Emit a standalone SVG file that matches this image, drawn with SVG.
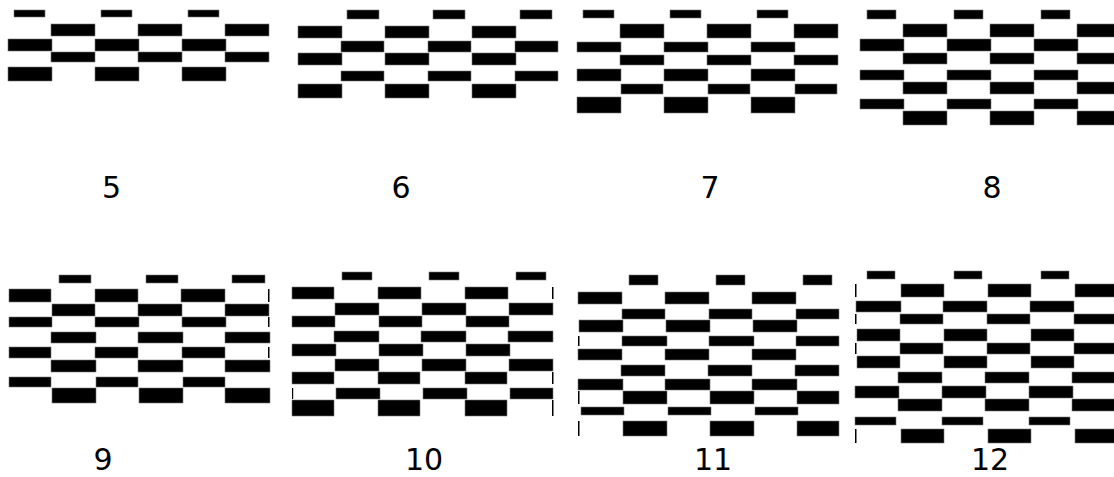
<svg xmlns="http://www.w3.org/2000/svg" width="1114" height="477" viewBox="0 0 1114 477">
<style>
.b{fill:#000;stroke:#777;stroke-width:0.6}
.s{fill:#000}
.l{font-family:"DejaVu Sans",sans-serif;font-size:30px;fill:#000;text-anchor:middle}
</style>
<rect width="1114" height="477" fill="#fff"/>
<g id="p5">
<rect class="b" x="14" y="10" width="31" height="7"/><rect class="b" x="101" y="10" width="31" height="7"/><rect class="b" x="188" y="10" width="31" height="7"/>
<rect class="b" x="51" y="24" width="44" height="12"/><rect class="b" x="138" y="24" width="44" height="12"/><rect class="b" x="225" y="24" width="44" height="12"/>
<rect class="b" x="8" y="39" width="44" height="12"/><rect class="b" x="95" y="39" width="44" height="12"/><rect class="b" x="182" y="39" width="44" height="12"/>
<rect class="b" x="51" y="52" width="44" height="10"/><rect class="b" x="138" y="52" width="44" height="10"/><rect class="b" x="225" y="52" width="44" height="10"/>
<rect class="b" x="8" y="67" width="44" height="14"/><rect class="b" x="95" y="67" width="44" height="14"/><rect class="b" x="182" y="67" width="44" height="14"/>
<text class="l" x="111.5" y="198">5</text>
</g>
<g id="p6">
<rect class="b" x="347" y="10" width="32" height="9"/><rect class="b" x="433" y="10" width="32" height="9"/><rect class="b" x="520" y="10" width="32" height="9"/>
<rect class="b" x="298" y="26" width="44" height="12"/><rect class="b" x="385" y="26" width="44" height="12"/><rect class="b" x="472" y="26" width="44" height="12"/>
<rect class="b" x="341" y="41" width="43" height="11"/><rect class="b" x="428" y="41" width="43" height="11"/><rect class="b" x="515" y="41" width="43" height="11"/>
<rect class="b" x="298" y="53" width="44" height="12"/><rect class="b" x="385" y="53" width="44" height="12"/><rect class="b" x="472" y="53" width="44" height="12"/>
<rect class="b" x="341" y="71" width="43" height="10"/><rect class="b" x="428" y="71" width="43" height="10"/><rect class="b" x="515" y="71" width="43" height="10"/>
<rect class="b" x="298" y="84" width="44" height="14"/><rect class="b" x="385" y="84" width="44" height="14"/><rect class="b" x="472" y="84" width="44" height="14"/>
<text class="l" x="401" y="198">6</text>
</g>
<g id="p7">
<rect class="b" x="583" y="10" width="31" height="8"/><rect class="b" x="670" y="10" width="31" height="8"/><rect class="b" x="757" y="10" width="31" height="8"/>
<rect class="b" x="620" y="24" width="44" height="14"/><rect class="b" x="707" y="24" width="44" height="14"/><rect class="b" x="794" y="24" width="44" height="14"/>
<rect class="b" x="577" y="42" width="44" height="10"/><rect class="b" x="664" y="42" width="44" height="10"/><rect class="b" x="751" y="42" width="44" height="10"/>
<rect class="b" x="620" y="55" width="44" height="10"/><rect class="b" x="707" y="55" width="44" height="10"/><rect class="b" x="794" y="55" width="44" height="10"/>
<rect class="b" x="577" y="69" width="44" height="12"/><rect class="b" x="664" y="69" width="44" height="12"/><rect class="b" x="751" y="69" width="44" height="12"/>
<rect class="b" x="621" y="84" width="42" height="10"/><rect class="b" x="708" y="84" width="42" height="10"/><rect class="b" x="795" y="84" width="42" height="10"/>
<rect class="b" x="577" y="97" width="44" height="16"/><rect class="b" x="664" y="97" width="44" height="16"/><rect class="b" x="751" y="97" width="44" height="16"/>
<text class="l" x="710" y="198">7</text>
</g>
<g id="p8">
<rect class="b" x="867" y="10" width="29" height="9"/><rect class="b" x="954" y="10" width="29" height="9"/><rect class="b" x="1041" y="10" width="29" height="9"/>
<rect class="b" x="903" y="24" width="44" height="13"/><rect class="b" x="990" y="24" width="44" height="13"/><rect class="b" x="1077" y="24" width="44" height="13"/>
<rect class="b" x="860" y="39" width="44" height="12"/><rect class="b" x="947" y="39" width="44" height="12"/><rect class="b" x="1034" y="39" width="44" height="12"/>
<rect class="b" x="903" y="53" width="44" height="11"/><rect class="b" x="990" y="53" width="44" height="11"/><rect class="b" x="1077" y="53" width="44" height="11"/>
<rect class="b" x="860" y="70" width="44" height="10"/><rect class="b" x="947" y="70" width="44" height="10"/><rect class="b" x="1034" y="70" width="44" height="10"/>
<rect class="b" x="903" y="82" width="44" height="12"/><rect class="b" x="990" y="82" width="44" height="12"/><rect class="b" x="1077" y="82" width="44" height="12"/>
<rect class="b" x="860" y="99" width="44" height="10"/><rect class="b" x="947" y="99" width="44" height="10"/><rect class="b" x="1034" y="99" width="44" height="10"/>
<rect class="b" x="903" y="111" width="44" height="14"/><rect class="b" x="990" y="111" width="44" height="14"/><rect class="b" x="1077" y="111" width="44" height="14"/>
<text class="l" x="992" y="198">8</text>
</g>
<g id="p9">
<rect class="b" x="59" y="275" width="32" height="8"/><rect class="b" x="146" y="275" width="32" height="8"/><rect class="b" x="232" y="275" width="33" height="8"/>
<rect class="b" x="9" y="289" width="42" height="13"/><rect class="b" x="95" y="289" width="43" height="13"/><rect class="b" x="181" y="289" width="44" height="13"/><rect class="s" x="268" y="289" width="1.5" height="13"/>
<rect class="b" x="52" y="304" width="43" height="12"/><rect class="b" x="138" y="304" width="44" height="12"/><rect class="b" x="225" y="304" width="44" height="12"/>
<rect class="b" x="9" y="317" width="43" height="10"/><rect class="b" x="95" y="317" width="44" height="10"/><rect class="b" x="182" y="317" width="44" height="10"/><rect class="s" x="268" y="317" width="1.5" height="10"/>
<rect class="b" x="51" y="332" width="45" height="11"/><rect class="b" x="138" y="332" width="45" height="11"/><rect class="b" x="225" y="332" width="45" height="11"/>
<rect class="b" x="9" y="347" width="42" height="11"/><rect class="b" x="95" y="347" width="43" height="11"/><rect class="b" x="182" y="347" width="43" height="11"/><rect class="s" x="268" y="347" width="1.5" height="11"/>
<rect class="b" x="51" y="360" width="45" height="12"/><rect class="b" x="138" y="360" width="45" height="12"/><rect class="b" x="225" y="360" width="45" height="12"/>
<rect class="b" x="9" y="377" width="42" height="10"/><rect class="b" x="96" y="377" width="42" height="10"/><rect class="b" x="183" y="377" width="42" height="10"/>
<rect class="b" x="52" y="388" width="44" height="15"/><rect class="b" x="139" y="388" width="44" height="15"/><rect class="b" x="225" y="388" width="45" height="15"/>
<text class="l" x="103" y="470">9</text>
</g>
<g id="p10">
<rect class="b" x="342" y="272" width="30" height="8"/><rect class="b" x="429" y="272" width="30" height="8"/><rect class="b" x="516" y="272" width="30" height="8"/>
<rect class="b" x="292" y="287" width="42" height="12"/><rect class="b" x="378" y="287" width="43" height="12"/><rect class="b" x="465" y="287" width="43" height="12"/><rect class="s" x="552" y="287" width="1.5" height="12"/>
<rect class="b" x="335" y="303" width="44" height="12"/><rect class="b" x="422" y="303" width="44" height="12"/><rect class="b" x="509" y="303" width="44" height="12"/>
<rect class="b" x="292" y="316" width="43" height="11"/><rect class="b" x="379" y="316" width="43" height="11"/><rect class="b" x="466" y="316" width="43" height="11"/>
<rect class="b" x="334" y="331" width="45" height="11"/><rect class="b" x="421" y="331" width="45" height="11"/><rect class="b" x="508" y="331" width="45" height="11"/>
<rect class="b" x="292" y="344" width="44" height="12"/><rect class="b" x="379" y="344" width="44" height="12"/><rect class="b" x="466" y="344" width="44" height="12"/>
<rect class="b" x="335" y="359" width="44" height="12"/><rect class="b" x="422" y="359" width="44" height="12"/><rect class="b" x="509" y="359" width="44" height="12"/>
<rect class="b" x="292" y="372" width="42" height="12"/><rect class="b" x="378" y="372" width="42" height="12"/><rect class="b" x="465" y="372" width="42" height="12"/><rect class="s" x="552" y="372" width="1.5" height="12"/>
<rect class="s" x="292" y="388" width="1.2" height="11"/><rect class="b" x="336" y="388" width="44" height="11"/><rect class="b" x="423" y="388" width="44" height="11"/><rect class="b" x="510" y="388" width="43" height="11"/>
<rect class="b" x="292" y="400" width="42" height="16"/><rect class="b" x="378" y="400" width="42" height="16"/><rect class="b" x="465" y="400" width="42" height="16"/><rect class="s" x="552" y="400" width="1.5" height="16"/>
<text class="l" x="424" y="470">10</text>
</g>
<g id="p11">
<rect class="b" x="629" y="275" width="29" height="10"/><rect class="b" x="716" y="275" width="29" height="10"/><rect class="b" x="803" y="275" width="29" height="10"/>
<rect class="b" x="578" y="292" width="44" height="12"/><rect class="b" x="665" y="292" width="44" height="12"/><rect class="b" x="752" y="292" width="44" height="12"/>
<rect class="b" x="622" y="309" width="43" height="10"/><rect class="b" x="709" y="309" width="43" height="10"/><rect class="b" x="796" y="309" width="43" height="10"/>
<rect class="b" x="579" y="320" width="44" height="12"/><rect class="b" x="666" y="320" width="44" height="12"/><rect class="b" x="753" y="320" width="44" height="12"/>
<rect class="s" x="578" y="336" width="1.5" height="10"/><rect class="b" x="622" y="336" width="45" height="10"/><rect class="b" x="709" y="336" width="45" height="10"/><rect class="b" x="796" y="336" width="43" height="10"/>
<rect class="b" x="578" y="349" width="44" height="11"/><rect class="b" x="665" y="349" width="44" height="11"/><rect class="b" x="752" y="349" width="44" height="11"/>
<rect class="b" x="621" y="365" width="44" height="11"/><rect class="b" x="708" y="365" width="44" height="11"/><rect class="b" x="795" y="365" width="44" height="11"/>
<rect class="b" x="578" y="379" width="45" height="11"/><rect class="b" x="665" y="379" width="45" height="11"/><rect class="b" x="752" y="379" width="45" height="11"/>
<rect class="s" x="578" y="391" width="1.5" height="13"/><rect class="b" x="623" y="391" width="44" height="13"/><rect class="b" x="710" y="391" width="44" height="13"/><rect class="b" x="797" y="391" width="42" height="13"/>
<rect class="b" x="581" y="407" width="43" height="8"/><rect class="b" x="668" y="407" width="43" height="8"/><rect class="b" x="755" y="407" width="43" height="8"/>
<rect class="s" x="578" y="421" width="1.5" height="15"/><rect class="b" x="623" y="421" width="44" height="15"/><rect class="b" x="710" y="421" width="44" height="15"/><rect class="b" x="797" y="421" width="42" height="15"/>
<text class="l" x="713" y="470">11</text>
</g>
<g id="p12">
<rect class="b" x="867" y="271" width="28" height="8"/><rect class="b" x="954" y="271" width="28" height="8"/><rect class="b" x="1041" y="271" width="28" height="8"/>
<rect class="s" x="855" y="284" width="1.5" height="13"/><rect class="b" x="901" y="284" width="43" height="13"/><rect class="b" x="988" y="284" width="43" height="13"/><rect class="b" x="1075" y="284" width="43" height="13"/>
<rect class="b" x="856" y="301" width="45" height="11"/><rect class="b" x="943" y="301" width="44" height="11"/><rect class="b" x="1030" y="301" width="44" height="11"/>
<rect class="s" x="855" y="314" width="1.5" height="10"/><rect class="b" x="900" y="314" width="43" height="10"/><rect class="b" x="987" y="314" width="43" height="10"/><rect class="b" x="1074" y="314" width="43" height="10"/>
<rect class="b" x="857" y="329" width="43" height="12"/><rect class="b" x="944" y="329" width="43" height="12"/><rect class="b" x="1031" y="329" width="43" height="12"/>
<rect class="s" x="855" y="343" width="1.5" height="11"/><rect class="b" x="900" y="343" width="43" height="11"/><rect class="b" x="987" y="343" width="43" height="11"/><rect class="b" x="1074" y="343" width="43" height="11"/>
<rect class="b" x="857" y="356" width="43" height="12"/><rect class="b" x="944" y="356" width="43" height="12"/><rect class="b" x="1031" y="356" width="43" height="12"/>
<rect class="b" x="898" y="372" width="44" height="11"/><rect class="b" x="985" y="372" width="44" height="11"/><rect class="b" x="1072" y="372" width="44" height="11"/>
<rect class="b" x="855" y="386" width="44" height="12"/><rect class="b" x="942" y="386" width="44" height="12"/><rect class="b" x="1029" y="386" width="44" height="12"/>
<rect class="b" x="898" y="399" width="44" height="12"/><rect class="b" x="985" y="399" width="44" height="12"/><rect class="b" x="1072" y="399" width="44" height="12"/>
<rect class="b" x="855" y="417" width="41" height="8"/><rect class="b" x="942" y="417" width="41" height="8"/><rect class="b" x="1029" y="417" width="41" height="8"/>
<rect class="s" x="855" y="429" width="1.5" height="14"/><rect class="b" x="901" y="429" width="43" height="14"/><rect class="b" x="988" y="429" width="43" height="14"/><rect class="b" x="1075" y="429" width="43" height="14"/>
<text class="l" x="990" y="470">12</text>
</g>
</svg>
